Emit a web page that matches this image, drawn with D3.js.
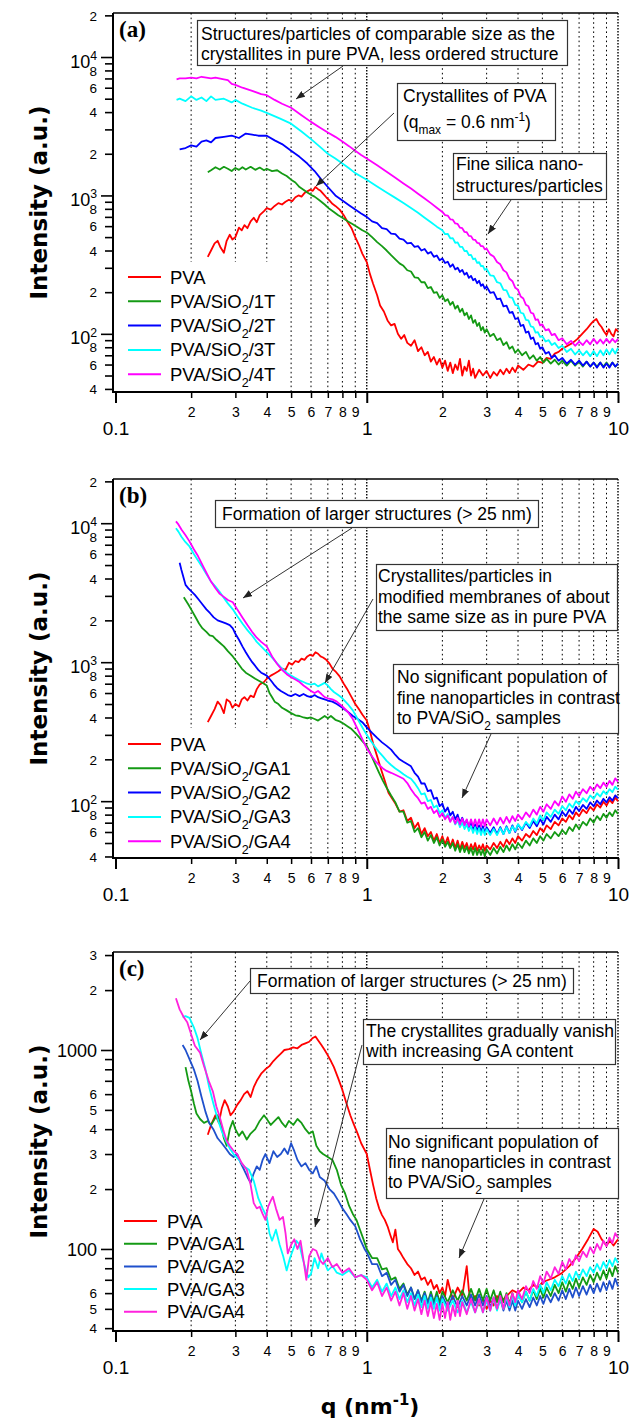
<!DOCTYPE html>
<html><head><meta charset="utf-8">
<script src="https://cdn.jsdelivr.net/npm/d3@7"></script>
<style>
body{margin:0;background:#fff}
svg{display:block;font-family:"Liberation Sans",Arial,sans-serif}
</style></head><body>
<svg width="631" height="1422"></svg>
<script>
// ================= DATA =================
const xTicks  = [0.1,0.2,0.3,0.4,0.5,0.6,0.7,0.8,0.9,1,2,3,4,5,6,7,8,9,10];
const xLabels = ["0.1","2","3","4","5","6","7","8","9","1","2","3","4","5","6","7","8","9","10"];
const gridQ   = [0.2,0.3,0.4,0.5,0.6,0.7,0.8,0.9,1,2,3,4,5,6,7,8,9,10];

const yTicksAB  = [40,50,60,70,80,90,100,200,300,400,500,600,700,800,900,1000,2000,3000,4000,5000,6000,7000,8000,9000,10000,20000];
const yLabelsAB = ["4","","6","","8","","10^{2}","2","","4","","6","","8","","10^{3}","2","","4","","6","","8","","10^{4}","2"];
const yTicksC   = [40,50,60,70,80,90,100,200,300,400,500,600,700,800,900,1000,2000,3000];
const yLabelsC  = ["4","5","6","","","","100","2","3","4","5","6","","","","1000","2","3"];

const namesA = ["PVA","PVA/SiO_{2}/1T","PVA/SiO_{2}/2T","PVA/SiO_{2}/3T","PVA/SiO_{2}/4T"];
const namesB = ["PVA","PVA/SiO_{2}/GA1","PVA/SiO_{2}/GA2","PVA/SiO_{2}/GA3","PVA/SiO_{2}/GA4"];
const namesC = ["PVA","PVA/GA1","PVA/GA2","PVA/GA3","PVA/GA4"];
const colorsAB = ["#ff0000","#149a14","#0000ff","#00ffff","#ff00ff"];
const colorsC  = ["#ff0000","#149a14","#1f50cc","#00ffff","#ff22dd"];

// ---- panel (a) : [q (nm^-1), intensity] ----
const aPVA = [[0.233,360],[0.24,400],[0.248,450],[0.255,470],[0.262,420],[0.27,385],[0.277,470],[0.285,520],[0.292,480],[0.30,500],[0.31,585],[0.318,560],[0.326,610],[0.335,580],[0.345,650],[0.355,690],[0.365,640],[0.375,720],[0.39,770],[0.40,810],[0.415,790],[0.43,840],[0.445,880],[0.46,860],[0.475,900],[0.49,930],[0.505,910],[0.52,970],[0.535,1000],[0.55,980],[0.565,1040],[0.58,1070],[0.595,1100],[0.61,1080],[0.625,1150],[0.64,1110],[0.655,1080],[0.67,1030],[0.69,970],[0.71,920],[0.73,870],[0.75,840],[0.78,790],[0.81,720],[0.84,640],[0.87,580],[0.90,500],[0.93,440],[0.96,380],[1.0,330],[1.03,270],[1.06,230],[1.1,190],[1.13,160],[1.17,145],[1.21,125],[1.25,115],[1.29,118],[1.33,100],[1.37,92],[1.41,98],[1.45,86],[1.5,82],[1.55,90],[1.6,75],[1.65,80],[1.7,70],[1.75,74],[1.8,63],[1.85,68],[1.9,60],[1.95,66],[2.0,57],[2.05,64],[2.1,54],[2.15,62],[2.2,52],[2.25,60],[2.3,55],[2.35,66],[2.4,50],[2.45,58],[2.5,54],[2.55,64],[2.6,50],[2.65,56],[2.7,48],[2.8,55],[2.9,50],[3.0,54],[3.1,48],[3.2,53],[3.3,50],[3.4,55],[3.5,51],[3.6,56],[3.7,52],[3.8,57],[3.9,53],[4.0,59],[4.2,55],[4.4,60],[4.6,58],[4.8,63],[5.0,62],[5.2,67],[5.4,66],[5.6,72],[5.8,74],[6.0,78],[6.3,82],[6.6,86],[6.9,92],[7.2,100],[7.5,108],[7.8,118],[8.0,124],[8.2,128],[8.4,118],[8.6,112],[8.8,104],[9.0,98],[9.2,108],[9.4,100],[9.6,96],[9.8,108],[10.0,104]];
const a1T = [[0.233,1470],[0.24,1520],[0.25,1600],[0.26,1540],[0.27,1610],[0.28,1560],[0.29,1500],[0.30,1580],[0.31,1530],[0.32,1600],[0.33,1540],[0.345,1610],[0.36,1530],[0.375,1590],[0.39,1520],[0.40,1560],[0.42,1500],[0.44,1520],[0.46,1440],[0.48,1380],[0.50,1300],[0.52,1240],[0.54,1150],[0.56,1100],[0.58,1050],[0.60,1010],[0.62,980],[0.65,920],[0.68,860],[0.71,800],[0.74,760],[0.77,720],[0.80,690],[0.84,650],[0.88,620],[0.92,590],[0.96,560],[1.0,540],[1.05,500],[1.1,460],[1.15,430],[1.2,400],[1.25,370],[1.3,345],[1.35,323],[1.4,310],[1.45,288],[1.5,282],[1.55,256],[1.6,254],[1.65,236],[1.7,236],[1.75,214],[1.8,218],[1.85,198],[1.9,200],[1.95,182],[2.0,190],[2.05,172],[2.1,178],[2.15,162],[2.2,170],[2.25,152],[2.3,160],[2.35,144],[2.4,152],[2.45,136],[2.5,142],[2.55,128],[2.6,136],[2.65,120],[2.7,126],[2.75,114],[2.8,120],[2.85,106],[2.9,112],[2.95,102],[3.0,108],[3.1,96],[3.2,100],[3.3,90],[3.4,93],[3.5,83],[3.6,87],[3.7,78],[3.8,81],[3.9,73],[4.0,77],[4.15,70],[4.3,74],[4.45,66],[4.6,70],[4.75,64],[4.9,68],[5.05,62],[5.2,66],[5.4,61],[5.6,65],[5.8,60],[6.0,64],[6.25,59],[6.5,64],[6.75,59],[7.0,63],[7.25,58],[7.5,63],[7.75,58],[8.0,62],[8.25,58],[8.5,62],[8.75,58],[9.0,62],[9.25,58],[9.5,62],[9.75,58],[10,61]];
const a2T = [[0.18,2150],[0.19,2200],[0.20,2300],[0.21,2250],[0.22,2450],[0.23,2500],[0.24,2420],[0.25,2600],[0.27,2650],[0.29,2700],[0.31,2600],[0.33,2800],[0.35,2750],[0.37,2700],[0.40,2700],[0.43,2500],[0.46,2350],[0.50,2100],[0.54,1900],[0.58,1700],[0.62,1500],[0.66,1300],[0.70,1150],[0.75,1000],[0.80,920],[0.85,850],[0.90,790],[0.95,740],[1.0,700],[1.05,650],[1.1,630],[1.15,580],[1.2,570],[1.25,530],[1.3,525],[1.35,488],[1.4,480],[1.45,450],[1.5,455],[1.55,425],[1.6,430],[1.65,400],[1.7,410],[1.75,380],[1.8,390],[1.85,360],[1.9,368],[1.95,340],[2.0,350],[2.05,325],[2.1,332],[2.15,305],[2.2,318],[2.25,292],[2.3,300],[2.35,280],[2.4,290],[2.45,268],[2.5,276],[2.55,254],[2.6,262],[2.65,244],[2.7,250],[2.75,232],[2.8,242],[2.85,222],[2.9,228],[2.95,212],[3.0,220],[3.1,198],[3.2,200],[3.3,178],[3.4,180],[3.5,158],[3.6,160],[3.7,142],[3.8,144],[3.9,128],[4.0,130],[4.1,114],[4.2,116],[4.3,102],[4.4,104],[4.5,92],[4.6,94],[4.7,84],[4.8,86],[4.9,78],[5.0,80],[5.15,72],[5.3,74],[5.45,67],[5.6,70],[5.8,64],[6.0,67],[6.25,61],[6.5,65],[6.75,60],[7.0,64],[7.25,59],[7.5,63],[7.75,58],[8.0,62],[8.25,57],[8.5,62],[8.75,57],[9.0,61],[9.25,57],[9.5,62],[9.75,58],[10,61]];
const a3T = [[0.175,4900],[0.18,5000],[0.19,4800],[0.20,5200],[0.21,4900],[0.22,5100],[0.23,4800],[0.24,5200],[0.25,4900],[0.27,5000],[0.29,4700],[0.30,4900],[0.32,4600],[0.35,4300],[0.38,4100],[0.40,3950],[0.45,3600],[0.50,3300],[0.55,2900],[0.60,2550],[0.65,2250],[0.70,2000],[0.75,1850],[0.80,1700],[0.85,1570],[0.90,1450],[0.95,1370],[1.0,1300],[1.1,1160],[1.2,1050],[1.3,960],[1.4,880],[1.5,810],[1.6,750],[1.7,690],[1.8,640],[1.9,595],[2.0,560],[2.05,525],[2.1,528],[2.15,490],[2.2,492],[2.25,455],[2.3,458],[2.35,425],[2.4,425],[2.45,396],[2.5,398],[2.55,370],[2.6,372],[2.65,346],[2.7,350],[2.75,326],[2.8,330],[2.85,308],[2.9,310],[2.95,290],[3.0,295],[3.1,265],[3.2,262],[3.3,236],[3.4,232],[3.5,208],[3.6,206],[3.7,184],[3.8,182],[3.9,162],[4.0,160],[4.1,142],[4.2,140],[4.3,126],[4.4,125],[4.5,113],[4.6,112],[4.7,102],[4.8,103],[4.9,95],[5.0,96],[5.15,88],[5.3,90],[5.45,83],[5.6,86],[5.8,79],[6.0,82],[6.25,74],[6.5,78],[6.75,71],[7.0,76],[7.25,70],[7.5,75],[7.75,69],[8.0,75],[8.25,69],[8.5,76],[8.75,70],[9.0,77],[9.25,71],[9.5,78],[9.75,72],[10,79]];
const a4T = [[0.175,6900],[0.18,7000],[0.19,7000],[0.20,7100],[0.21,7000],[0.22,7200],[0.23,7100],[0.24,7000],[0.25,7100],[0.27,6900],[0.28,6800],[0.29,6400],[0.30,6300],[0.32,6000],[0.35,5700],[0.38,5400],[0.40,5300],[0.43,4900],[0.46,4600],[0.50,4300],[0.55,3800],[0.60,3400],[0.65,3100],[0.70,2850],[0.75,2650],[0.80,2450],[0.85,2270],[0.90,2100],[0.95,1960],[1.0,1850],[1.1,1650],[1.2,1480],[1.3,1340],[1.4,1220],[1.5,1120],[1.6,1030],[1.7,950],[1.8,880],[1.9,815],[2.0,760],[2.05,720],[2.1,715],[2.15,672],[2.2,668],[2.25,628],[2.3,622],[2.35,585],[2.4,580],[2.45,545],[2.5,542],[2.55,510],[2.6,508],[2.65,480],[2.7,478],[2.75,455],[2.8,452],[2.85,430],[2.9,430],[2.95,408],[3.0,412],[3.1,375],[3.2,362],[3.3,330],[3.4,318],[3.5,288],[3.6,278],[3.7,250],[3.8,240],[3.9,215],[4.0,208],[4.1,186],[4.2,180],[4.3,162],[4.4,158],[4.5,142],[4.6,140],[4.7,126],[4.8,127],[4.9,115],[5.0,117],[5.15,106],[5.3,108],[5.45,98],[5.6,100],[5.8,90],[6.0,93],[6.25,84],[6.5,89],[6.75,82],[7.0,88],[7.25,83],[7.5,90],[7.75,84],[8.0,92],[8.25,85],[8.5,91],[8.75,85],[9.0,92],[9.25,86],[9.5,92],[9.75,87],[10,92]];

// ---- panel (b) ----
const bPVA = [[0.233,370],[0.24,410],[0.248,460],[0.255,520],[0.262,490],[0.27,430],[0.277,540],[0.285,520],[0.292,470],[0.30,500],[0.31,480],[0.318,540],[0.326,560],[0.335,530],[0.345,575],[0.355,560],[0.365,640],[0.375,690],[0.39,720],[0.40,760],[0.415,800],[0.43,830],[0.445,860],[0.46,900],[0.475,880],[0.49,990],[0.505,960],[0.52,1020],[0.535,1000],[0.55,1060],[0.565,1040],[0.58,1100],[0.595,1130],[0.61,1110],[0.625,1180],[0.64,1150],[0.655,1100],[0.67,1080],[0.69,1040],[0.71,980],[0.73,900],[0.75,860],[0.78,790],[0.81,700],[0.84,630],[0.87,560],[0.90,500],[0.93,460],[0.96,420],[1.0,380],[1.03,320],[1.06,260],[1.1,210],[1.14,170],[1.18,140],[1.22,115],[1.26,105],[1.3,96],[1.35,84],[1.4,86],[1.45,72],[1.5,76],[1.55,64],[1.6,70],[1.65,58],[1.7,64],[1.75,56],[1.8,60],[1.85,52],[1.9,58],[1.95,50],[2.0,56],[2.05,49],[2.1,55],[2.15,47],[2.2,53],[2.25,46],[2.3,52],[2.35,45],[2.4,51],[2.45,46],[2.5,50],[2.55,44],[2.6,49],[2.65,45],[2.7,50],[2.75,44],[2.8,48],[2.85,45],[2.9,49],[2.95,44],[3.0,48],[3.1,45],[3.2,50],[3.3,46],[3.4,51],[3.5,47],[3.6,53],[3.7,49],[3.8,54],[3.9,50],[4.0,56],[4.15,52],[4.3,58],[4.45,55],[4.6,61],[4.75,57],[4.9,64],[5.05,60],[5.2,67],[5.4,63],[5.6,71],[5.8,67],[6.0,75],[6.2,71],[6.4,79],[6.6,74],[6.8,83],[7.0,78],[7.25,87],[7.5,82],[7.75,91],[8.0,86],[8.25,95],[8.5,90],[8.75,99],[9.0,93],[9.25,102],[9.5,97],[9.75,106],[10.0,100]];
const bGA1 = [[0.187,2930],[0.19,2800],[0.195,2600],[0.2,2400],[0.207,2150],[0.215,1900],[0.222,1750],[0.23,1650],[0.237,1560],[0.244,1540],[0.252,1450],[0.26,1380],[0.27,1300],[0.28,1200],[0.293,1100],[0.305,1000],[0.318,900],[0.33,840],[0.345,800],[0.36,760],[0.375,730],[0.39,700],[0.40,680],[0.41,600],[0.42,560],[0.43,520],[0.445,500],[0.46,470],[0.48,450],[0.50,430],[0.52,415],[0.54,410],[0.56,400],[0.58,395],[0.60,400],[0.62,390],[0.64,380],[0.66,395],[0.68,410],[0.70,395],[0.72,410],[0.75,385],[0.78,375],[0.81,360],[0.84,345],[0.87,330],[0.90,310],[0.93,290],[0.96,270],[1.0,250],[1.04,215],[1.08,185],[1.12,160],[1.16,140],[1.2,125],[1.25,110],[1.3,98],[1.35,84],[1.4,84],[1.45,70],[1.5,72],[1.55,60],[1.6,64],[1.65,55],[1.7,60],[1.75,52],[1.8,57],[1.85,50],[1.9,55],[1.95,48],[2.0,53],[2.05,47],[2.1,51],[2.15,46],[2.2,50],[2.25,44],[2.3,49],[2.35,43],[2.4,48],[2.45,43],[2.5,47],[2.55,42],[2.6,46],[2.65,41],[2.7,46],[2.75,41],[2.8,45],[2.85,41],[2.9,45],[2.95,40],[3.0,45],[3.1,41],[3.2,46],[3.3,42],[3.4,47],[3.5,43],[3.6,48],[3.7,44],[3.8,49],[3.9,45],[4.0,50],[4.15,46],[4.3,52],[4.45,48],[4.6,54],[4.75,50],[4.9,56],[5.05,52],[5.2,58],[5.4,54],[5.6,60],[5.8,56],[6.0,62],[6.2,58],[6.4,65],[6.6,61],[6.8,68],[7.0,63],[7.25,71],[7.5,67],[7.75,75],[8.0,70],[8.25,78],[8.5,73],[8.75,81],[9.0,76],[9.25,83],[9.5,78],[9.75,86],[10.0,81]];
const bGA2 = [[0.18,5200],[0.183,4600],[0.187,4000],[0.19,3600],[0.195,3400],[0.2,3250],[0.207,3050],[0.215,2800],[0.222,2600],[0.23,2400],[0.238,2250],[0.246,2100],[0.255,2000],[0.265,1950],[0.275,1900],[0.285,1850],[0.293,1750],[0.30,1600],[0.31,1450],[0.32,1300],[0.33,1180],[0.34,1080],[0.35,1000],[0.36,940],[0.37,880],[0.38,840],[0.39,820],[0.40,800],[0.41,760],[0.42,720],[0.43,680],[0.44,650],[0.455,620],[0.47,600],[0.485,580],[0.50,570],[0.52,590],[0.54,570],[0.56,590],[0.58,570],[0.60,560],[0.62,580],[0.64,560],[0.66,550],[0.68,540],[0.70,530],[0.73,520],[0.76,500],[0.80,470],[0.84,440],[0.88,410],[0.92,390],[0.96,370],[1.0,340],[1.05,310],[1.1,285],[1.15,265],[1.2,250],[1.25,235],[1.3,215],[1.35,200],[1.4,192],[1.45,185],[1.5,178],[1.55,160],[1.6,150],[1.65,134],[1.7,134],[1.75,118],[1.8,120],[1.85,104],[1.9,106],[1.95,92],[2.0,96],[2.05,84],[2.1,90],[2.15,79],[2.2,84],[2.25,74],[2.3,80],[2.35,70],[2.4,76],[2.45,68],[2.5,73],[2.55,65],[2.6,70],[2.65,63],[2.7,68],[2.75,61],[2.8,67],[2.85,60],[2.9,66],[2.95,59],[3.0,65],[3.1,59],[3.2,65],[3.3,58],[3.4,65],[3.5,58],[3.6,66],[3.7,59],[3.8,67],[3.9,60],[4.0,68],[4.15,62],[4.3,70],[4.45,64],[4.6,72],[4.75,66],[4.9,74],[5.05,68],[5.2,77],[5.4,71],[5.6,80],[5.8,74],[6.0,84],[6.2,78],[6.4,87],[6.6,81],[6.8,91],[7.0,85],[7.25,94],[7.5,88],[7.75,98],[8.0,92],[8.25,101],[8.5,95],[8.75,104],[9.0,98],[9.25,107],[9.5,101],[9.75,110],[10.0,105]];
const bGA3 = [[0.174,9200],[0.178,8700],[0.183,8000],[0.19,7300],[0.197,6800],[0.205,6000],[0.213,5400],[0.222,4800],[0.23,4300],[0.24,3800],[0.25,3500],[0.26,3200],[0.27,2900],[0.28,2650],[0.293,2400],[0.305,2150],[0.32,1900],[0.335,1700],[0.35,1550],[0.365,1400],[0.38,1300],[0.40,1180],[0.42,1080],[0.44,980],[0.46,900],[0.48,840],[0.50,800],[0.52,770],[0.54,740],[0.56,720],[0.58,700],[0.60,690],[0.62,700],[0.64,670],[0.66,690],[0.68,710],[0.70,680],[0.72,640],[0.74,610],[0.77,580],[0.80,550],[0.84,500],[0.88,450],[0.92,390],[0.96,340],[1.0,300],[1.04,270],[1.08,245],[1.12,225],[1.16,210],[1.2,195],[1.25,182],[1.3,172],[1.35,164],[1.4,156],[1.45,150],[1.5,145],[1.55,135],[1.6,124],[1.65,112],[1.7,114],[1.75,100],[1.8,102],[1.85,90],[1.9,93],[1.95,82],[2.0,86],[2.05,76],[2.1,81],[2.15,72],[2.2,77],[2.25,68],[2.3,73],[2.35,65],[2.4,70],[2.45,63],[2.5,68],[2.55,61],[2.6,66],[2.65,59],[2.7,65],[2.75,58],[2.8,64],[2.85,57],[2.9,63],[2.95,57],[3.0,63],[3.1,57],[3.2,63],[3.3,57],[3.4,64],[3.5,58],[3.6,65],[3.7,59],[3.8,66],[3.9,61],[4.0,68],[4.15,63],[4.3,71],[4.45,66],[4.6,75],[4.75,69],[4.9,79],[5.05,73],[5.2,83],[5.4,77],[5.6,87],[5.8,81],[6.0,92],[6.2,86],[6.4,96],[6.6,90],[6.8,100],[7.0,95],[7.25,105],[7.5,99],[7.75,110],[8.0,104],[8.25,114],[8.5,108],[8.75,118],[9.0,112],[9.25,122],[9.5,116],[9.75,127],[10.0,121]];
const bGA4 = [[0.174,10300],[0.178,9800],[0.183,9000],[0.19,8200],[0.197,7400],[0.205,6500],[0.213,5800],[0.222,5000],[0.23,4400],[0.24,3800],[0.25,3400],[0.26,3100],[0.27,2950],[0.28,2800],[0.293,2700],[0.305,2400],[0.32,2100],[0.335,1850],[0.35,1650],[0.365,1500],[0.38,1400],[0.40,1300],[0.42,1100],[0.44,970],[0.46,880],[0.48,820],[0.50,780],[0.52,750],[0.54,720],[0.56,680],[0.58,650],[0.60,620],[0.62,600],[0.64,620],[0.66,590],[0.68,560],[0.70,550],[0.73,540],[0.76,520],[0.80,480],[0.84,440],[0.88,390],[0.92,330],[0.96,280],[1.0,240],[1.04,215],[1.08,195],[1.12,182],[1.16,172],[1.2,165],[1.25,160],[1.3,155],[1.35,150],[1.4,145],[1.45,135],[1.5,122],[1.55,112],[1.6,105],[1.65,96],[1.7,98],[1.75,88],[1.8,91],[1.85,82],[1.9,86],[1.95,77],[2.0,82],[2.05,74],[2.1,79],[2.15,71],[2.2,77],[2.25,69],[2.3,76],[2.35,68],[2.4,75],[2.45,67],[2.5,74],[2.55,66],[2.6,74],[2.65,66],[2.7,74],[2.75,66],[2.8,74],[2.85,66],[2.9,74],[2.95,66],[3.0,74],[3.1,67],[3.2,75],[3.3,68],[3.4,76],[3.5,69],[3.6,77],[3.7,70],[3.8,78],[3.9,72],[4.0,80],[4.15,74],[4.3,83],[4.45,77],[4.6,87],[4.75,80],[4.9,91],[5.05,84],[5.2,95],[5.4,88],[5.6,100],[5.8,93],[6.0,108],[6.2,99],[6.4,112],[6.6,104],[6.8,117],[7.0,109],[7.25,122],[7.5,114],[7.75,127],[8.0,119],[8.25,132],[8.5,124],[8.75,136],[9.0,127],[9.25,140],[9.5,131],[9.75,146],[10.0,138]];

// ---- panel (c) ----
const cPVA = [[0.233,375],[0.24,420],[0.25,470],[0.258,430],[0.265,510],[0.272,560],[0.28,520],[0.287,470],[0.295,490],[0.305,530],[0.315,560],[0.325,600],[0.335,620],[0.345,580],[0.355,650],[0.365,700],[0.38,760],[0.395,800],[0.41,830],[0.425,880],[0.44,920],[0.455,960],[0.47,1000],[0.49,1010],[0.51,1030],[0.53,1020],[0.55,1060],[0.57,1080],[0.59,1100],[0.61,1150],[0.625,1170],[0.64,1120],[0.66,1060],[0.68,1000],[0.70,940],[0.72,880],[0.74,820],[0.77,720],[0.80,630],[0.83,540],[0.86,470],[0.89,420],[0.92,380],[0.95,340],[1.0,300],[1.03,250],[1.06,210],[1.09,180],[1.12,160],[1.15,148],[1.18,140],[1.21,130],[1.24,118],[1.27,108],[1.3,125],[1.33,100],[1.36,96],[1.4,90],[1.45,84],[1.5,80],[1.55,74],[1.6,77],[1.65,70],[1.7,72],[1.75,66],[1.8,70],[1.85,63],[1.9,66],[1.95,60],[2.0,64],[2.05,58],[2.1,70],[2.15,62],[2.2,56],[2.3,64],[2.4,58],[2.5,82],[2.55,62],[2.6,54],[2.7,58],[2.8,52],[2.9,56],[3.0,50],[3.1,55],[3.2,52],[3.3,58],[3.4,54],[3.6,58],[3.8,62],[4.0,60],[4.2,64],[4.4,62],[4.6,66],[4.8,64],[5.0,68],[5.3,70],[5.6,72],[6.0,76],[6.4,82],[6.8,90],[7.2,100],[7.6,112],[8.0,126],[8.3,122],[8.6,112],[9.0,104],[9.3,110],[9.6,104],[10.0,112]];
const cGA1 = [[0.19,820],[0.195,700],[0.2,620],[0.205,540],[0.21,480],[0.217,450],[0.225,430],[0.233,440],[0.24,420],[0.248,450],[0.255,470],[0.262,430],[0.27,360],[0.277,330],[0.285,400],[0.293,440],[0.30,400],[0.31,370],[0.32,390],[0.333,355],[0.345,380],[0.36,400],[0.375,440],[0.39,470],[0.40,450],[0.415,420],[0.43,440],[0.445,460],[0.46,430],[0.475,410],[0.49,440],[0.51,420],[0.53,450],[0.55,430],[0.57,400],[0.59,380],[0.61,390],[0.63,330],[0.65,310],[0.67,300],[0.70,290],[0.73,280],[0.76,250],[0.79,210],[0.82,190],[0.85,165],[0.88,150],[0.91,140],[0.94,125],[0.97,112],[1.0,100],[1.05,90],[1.1,90],[1.15,79],[1.2,80],[1.25,70],[1.3,72],[1.35,63],[1.4,67],[1.45,59],[1.5,64],[1.55,56],[1.6,62],[1.65,55],[1.7,61],[1.75,54],[1.8,61],[1.85,54],[1.9,61],[1.95,54],[2.0,61],[2.1,54],[2.2,62],[2.3,55],[2.4,62],[2.5,55],[2.6,63],[2.7,55],[2.8,63],[2.9,55],[3.0,63],[3.1,55],[3.2,62],[3.3,54],[3.4,61],[3.5,54],[3.6,60],[3.7,53],[3.8,60],[3.9,53],[4.0,60],[4.15,54],[4.3,61],[4.45,55],[4.6,62],[4.75,56],[4.9,63],[5.05,57],[5.2,64],[5.4,58],[5.6,66],[5.8,60],[6.0,68],[6.2,61],[6.4,69],[6.6,63],[6.8,71],[7.0,64],[7.25,72],[7.5,66],[7.75,74],[8.0,68],[8.25,76],[8.5,70],[8.75,78],[9.0,71],[9.25,80],[9.5,73],[9.75,82],[10.0,76]];
const cGA2 = [[0.185,1060],[0.19,1000],[0.197,900],[0.205,800],[0.212,700],[0.22,580],[0.228,490],[0.236,430],[0.245,400],[0.255,360],[0.265,340],[0.275,320],[0.285,300],[0.295,290],[0.305,300],[0.315,270],[0.325,250],[0.335,230],[0.345,215],[0.355,240],[0.365,260],[0.375,250],[0.385,280],[0.395,300],[0.41,270],[0.425,310],[0.44,290],[0.455,300],[0.47,320],[0.485,300],[0.5,340],[0.515,310],[0.53,280],[0.55,260],[0.57,270],[0.59,250],[0.61,240],[0.63,260],[0.65,230],[0.68,220],[0.71,200],[0.74,190],[0.77,175],[0.8,160],[0.83,150],[0.86,140],[0.9,130],[0.94,112],[0.98,100],[1.0,96],[1.05,84],[1.1,84],[1.15,73],[1.2,76],[1.25,66],[1.3,70],[1.35,61],[1.4,66],[1.45,58],[1.5,64],[1.55,56],[1.6,62],[1.65,54],[1.7,60],[1.75,53],[1.8,59],[1.85,52],[1.9,58],[1.95,51],[2.0,58],[2.1,51],[2.2,58],[2.3,51],[2.4,58],[2.5,52],[2.6,59],[2.7,52],[2.8,59],[2.9,52],[3.0,58],[3.1,51],[3.2,57],[3.3,50],[3.4,56],[3.5,49],[3.6,55],[3.7,49],[3.8,55],[3.9,49],[4.0,55],[4.15,50],[4.3,56],[4.45,51],[4.6,57],[4.75,52],[4.9,58],[5.05,53],[5.2,59],[5.4,54],[5.6,60],[5.8,55],[6.0,62],[6.2,56],[6.4,63],[6.6,57],[6.8,64],[7.0,58],[7.25,65],[7.5,59],[7.75,66],[8.0,60],[8.25,67],[8.5,61],[8.75,68],[9.0,62],[9.25,69],[9.5,63],[9.75,71],[10.0,65]];
const cGA3 = [[0.185,1460],[0.19,1480],[0.197,1450],[0.205,1300],[0.212,1150],[0.22,950],[0.228,800],[0.236,650],[0.245,540],[0.255,450],[0.265,390],[0.275,350],[0.285,320],[0.295,300],[0.31,280],[0.325,260],[0.34,250],[0.355,220],[0.37,180],[0.385,160],[0.40,145],[0.41,120],[0.42,110],[0.435,125],[0.45,105],[0.465,92],[0.48,78],[0.495,90],[0.51,100],[0.525,110],[0.54,105],[0.555,90],[0.57,80],[0.585,72],[0.6,75],[0.62,90],[0.64,80],[0.66,95],[0.68,85],[0.70,78],[0.73,82],[0.76,76],[0.8,74],[0.85,78],[0.9,72],[0.95,74],[1.0,72],[1.05,64],[1.1,70],[1.15,61],[1.2,67],[1.25,58],[1.3,64],[1.35,56],[1.4,62],[1.45,54],[1.5,60],[1.55,52],[1.6,59],[1.65,51],[1.7,58],[1.75,50],[1.8,57],[1.85,50],[1.9,57],[1.95,49],[2.0,56],[2.1,49],[2.2,55],[2.3,48],[2.4,55],[2.5,48],[2.6,54],[2.7,48],[2.8,55],[2.9,48],[3.0,55],[3.1,49],[3.2,56],[3.3,49],[3.4,56],[3.5,50],[3.6,57],[3.7,51],[3.8,58],[3.9,52],[4.0,59],[4.15,54],[4.3,61],[4.45,55],[4.6,63],[4.75,58],[4.9,66],[5.05,60],[5.2,68],[5.4,62],[5.6,70],[5.8,65],[6.0,73],[6.2,67],[6.4,75],[6.6,69],[6.8,77],[7.0,71],[7.25,79],[7.5,73],[7.75,81],[8.0,76],[8.25,84],[8.5,78],[8.75,86],[9.0,80],[9.25,88],[9.5,82],[9.75,90],[10.0,85]];
const cGA4 = [[0.174,1820],[0.18,1600],[0.187,1460],[0.193,1380],[0.2,1200],[0.207,1050],[0.217,970],[0.225,830],[0.235,700],[0.244,620],[0.252,520],[0.26,460],[0.268,400],[0.277,350],[0.285,330],[0.293,315],[0.305,300],[0.318,270],[0.333,250],[0.345,210],[0.355,170],[0.365,160],[0.375,163],[0.385,150],[0.395,140],[0.405,163],[0.415,175],[0.423,183],[0.435,160],[0.45,140],[0.464,145],[0.475,120],[0.485,95],[0.5,105],[0.515,112],[0.53,100],[0.545,110],[0.56,88],[0.575,70],[0.59,92],[0.61,100],[0.63,98],[0.65,88],[0.67,84],[0.70,90],[0.73,81],[0.76,84],[0.8,76],[0.85,80],[0.9,72],[0.95,74],[1.0,70],[1.05,62],[1.1,68],[1.15,58],[1.2,64],[1.25,55],[1.3,61],[1.35,52],[1.4,60],[1.45,50],[1.5,58],[1.55,49],[1.6,56],[1.65,47],[1.7,55],[1.75,46],[1.8,54],[1.85,45],[1.9,53],[1.95,44],[2.0,53],[2.05,45],[2.1,54],[2.15,44],[2.2,52],[2.25,46],[2.3,55],[2.35,46],[2.4,54],[2.5,47],[2.6,56],[2.7,48],[2.8,56],[2.9,48],[3.0,57],[3.1,49],[3.2,57],[3.3,50],[3.4,58],[3.5,50],[3.6,59],[3.7,52],[3.8,60],[3.9,54],[4.0,62],[4.15,56],[4.3,65],[4.45,60],[4.6,69],[4.75,63],[4.9,73],[5.05,67],[5.2,77],[5.4,71],[5.6,81],[5.8,75],[6.0,86],[6.2,79],[6.4,89],[6.6,83],[6.8,93],[7.0,87],[7.25,97],[7.5,91],[7.75,102],[8.0,95],[8.25,106],[8.5,99],[8.75,110],[9.0,103],[9.25,114],[9.5,107],[9.75,120],[10.0,114]];

// ================= LAYOUT =================
const panels = [
  {label:"(a)", top:13, bottom:392, yDomain:[38,20800], yTicks:yTicksAB, yLabels:yLabelsAB,
   series:[aPVA,a1T,a2T,a3T,a4T], names:namesA, colors:colorsAB,
   legend:{x1:128,x2:161,tx:170,y0:277,dy:24.3,bg:[115,262,172,129]},
   notes:[
     {box:[197,20,370,45],tx:201,ty:40,lh:20,lines:["Structures/particles of comparable size as the","crystallites in pure PVA, less ordered structure"],arrow:[343,66,296,99]},
     {box:[397,83,158,57],tx:403,ty:102,lh:26,lines:["Crystallites of PVA","(q_{max} = 0.6 nm^{-1})"],arrow:[394,113,316,186]},
     {box:[453,153,153,46],tx:456,ty:170,lh:22,lines:["Fine silica nano-","structures/particles"],arrow:[511,200,488,234]}
   ]},
  {label:"(b)", top:479, bottom:858, yDomain:[39,20800], yTicks:yTicksAB, yLabels:yLabelsAB,
   series:[bPVA,bGA1,bGA2,bGA3,bGA4], names:namesB, colors:colorsAB,
   legend:{x1:128,x2:161,tx:170,y0:744,dy:24.3,bg:[115,728,186,129]},
   notes:[
     {box:[215,500,323,27],tx:222,ty:520,lh:20,lines:["Formation of larger structures (> 25 nm)"],arrow:[352,528,243,598]},
     {box:[376,564,241,66],tx:378,ty:582,lh:20.5,lines:["Crystallites/particles in","modified membranes of about","the same size as in pure PVA"],arrow:[373,599,325,683]},
     {box:[393,664,225,69],tx:397,ty:683,lh:20.5,lines:["No significant population of","fine nanoparticles in contrast","to PVA/SiO_{2} samples"],arrow:[491,734,462,798]}
   ]},
  {label:"(c)", top:952, bottom:1331, yDomain:[38.7,3108], yTicks:yTicksC, yLabels:yLabelsC,
   series:[cPVA,cGA1,cGA2,cGA3,cGA4], names:namesC, colors:colorsC,
   legend:{x1:124,x2:157,tx:167,y0:1221,dy:22.7,bg:null},
   notes:[
     {box:[250,968,323,25],tx:257,ty:987,lh:20,lines:["Formation of larger structures (> 25 nm)"],arrow:[250,981,200,1040]},
     {box:[363,1019,252,45],tx:366,ty:1037,lh:20,lines:["The crystallites gradually vanish","with increasing GA content"],arrow:[362,1045,315,1227]},
     {box:[386,1128,232,70],tx:388,ty:1148,lh:20,lines:["No significant population of","fine nanoparticles in contrast","to PVA/SiO_{2} samples"],arrow:[484,1199,459,1258]}
   ]}
];

// ================= DRAW =================
const svg = d3.select("svg");
const x = d3.scaleLog().domain([0.1,10]).range([115.5,618]);
const axisX0 = 113, axisX1 = 618;

svg.append("defs").append("marker").attr("id","ah")
  .attr("markerUnits","userSpaceOnUse").attr("markerWidth",10).attr("markerHeight",7)
  .attr("refX",9).attr("refY",3.5).attr("orient","auto")
  .append("path").attr("d","M0,0L9,3.5L0,7Z").attr("fill","#222");

function rich(sel, str, size){
  const parts = str.split(/(_\{[^}]*\}|\^\{[^}]*\})/).filter(s=>s.length);
  let cur = 0;
  parts.forEach(p=>{
    let shift=0, t=p, fs=size;
    if(p.startsWith("_{")){shift=size*0.32; t=p.slice(2,-1); fs=size*0.68;}
    else if(p.startsWith("^{")){shift=-size*0.42; t=p.slice(2,-1); fs=size*0.68;}
    sel.append("tspan").attr("dy",shift-cur).attr("font-size",fs).text(t);
    cur = shift;
  });
}
const isMajorX = d => Math.abs(Math.log10(d)-Math.round(Math.log10(d)))<1e-9;

panels.forEach(p=>{
  const g = svg.append("g");
  const y = d3.scaleLog().domain(p.yDomain).range([p.bottom,p.top]);

  // grid
  g.append("g").selectAll("line").data(gridQ).join("line")
    .attr("x1",d=>x(d)).attr("x2",d=>x(d)).attr("y1",p.top).attr("y2",p.bottom)
    .attr("stroke","#000")
    .attr("stroke-width",d=>isMajorX(d)?1.4:1)
    .attr("stroke-dasharray",d=>isMajorX(d)?"1.6,1.4":"1.6,3");

  // series
  const line = d3.line().x(d=>x(d[0])).y(d=>y(d[1]));
  g.append("g").selectAll("path").data(p.series).join("path")
    .attr("d",line).attr("fill","none")
    .attr("stroke",(d,i)=>p.colors[i]).attr("stroke-width",1.8).attr("stroke-linejoin","round");

  // legend
  const L = p.legend;
  if(L.bg) g.append("rect").attr("x",L.bg[0]).attr("y",L.bg[1]).attr("width",L.bg[2]).attr("height",L.bg[3]).attr("fill","#fff");
  p.names.forEach((n,i)=>{
    const yy = L.y0 + i*L.dy;
    g.append("line").attr("x1",L.x1).attr("x2",L.x2).attr("y1",yy).attr("y2",yy)
      .attr("stroke",p.colors[i]).attr("stroke-width",2);
    const t = g.append("text").attr("x",L.tx).attr("y",yy+6.5).attr("font-size",18.5).attr("fill","#000");
    rich(t,n,18.5);
  });

  // annotations
  p.notes.forEach(n=>{
    g.append("line").attr("x1",n.arrow[0]).attr("y1",n.arrow[1]).attr("x2",n.arrow[2]).attr("y2",n.arrow[3])
      .attr("stroke","#333").attr("stroke-width",1).attr("marker-end","url(#ah)");
    g.append("rect").attr("x",n.box[0]+0.5).attr("y",n.box[1]+0.5).attr("width",n.box[2]).attr("height",n.box[3])
      .attr("fill","#fff").attr("stroke","#333").attr("stroke-width",1.2);
    n.lines.forEach((s,k)=>{
      const t = g.append("text").attr("x",n.tx).attr("y",n.ty+k*n.lh).attr("font-size",17.5).attr("fill","#000");
      rich(t,s,17.5);
    });
  });

  // panel label
  g.append("text").attr("x",119).attr("y",p.top+24).attr("font-family","'Liberation Serif','Times New Roman',serif")
    .attr("font-weight","bold").attr("font-size",23).text(p.label);

  // frame: top line, left & bottom axis lines
  g.append("line").attr("x1",axisX0).attr("x2",axisX1).attr("y1",p.top).attr("y2",p.top).attr("stroke","#000").attr("stroke-width",1.5);
  g.append("line").attr("x1",axisX0).attr("x2",axisX0).attr("y1",p.top).attr("y2",p.bottom+1).attr("stroke","#000").attr("stroke-width",2);
  g.append("line").attr("x1",axisX0-1).attr("x2",axisX1+1).attr("y1",p.bottom).attr("y2",p.bottom).attr("stroke","#000").attr("stroke-width",2);

  // x axis
  const xa = g.append("g").attr("transform",`translate(0,${p.bottom})`)
    .call(d3.axisBottom(x).tickValues(xTicks).tickSize(6).tickSizeOuter(0).tickFormat((d,i)=>xLabels[i]));
  xa.select(".domain").remove();
  xa.selectAll(".tick line").attr("stroke","#000")
    .attr("y2",d=>isMajorX(d)?11:6).attr("stroke-width",d=>isMajorX(d)?2:1.5);
  xa.selectAll(".tick text").attr("fill","#000").attr("font-family","'Liberation Sans',Arial,sans-serif")
    .attr("dy",0).attr("font-size",d=>isMajorX(d)?19:14).attr("y",d=>isMajorX(d)?43:25);

  // y axis
  const ya = g.append("g").attr("transform",`translate(${axisX0},0)`)
    .call(d3.axisLeft(y).tickValues(p.yTicks).tickSize(8).tickSizeOuter(0).tickFormat((d,i)=>p.yLabels[i]));
  ya.select(".domain").remove();
  const isMajorY = d => Math.abs(Math.log10(d)-Math.round(Math.log10(d)))<1e-9;
  ya.selectAll(".tick line").attr("stroke","#000")
    .attr("x2",d=>isMajorY(d)?-12:-8).attr("stroke-width",1.6);
  ya.selectAll(".tick text").each(function(d,i){
    const s = p.yLabels[p.yTicks.indexOf(d)];
    const t = d3.select(this).attr("fill","#000").attr("x",-16).attr("font-family","'Liberation Sans',Arial,sans-serif");
    t.text(null);
    if(s.includes("^")){
      t.attr("dy",0).attr("y",10).attr("font-size",18);
      rich(t,s,18);
    } else if(s.length>1){
      t.attr("dy","0.35em").attr("font-size",18).text(s);
    } else {
      t.attr("dy","0.35em").attr("font-size",13.5).text(s);
    }
  });

  // y title
  g.append("text").attr("transform",`translate(47,${(p.top+p.bottom)/2}) rotate(-90)`)
    .attr("text-anchor","middle").attr("font-family","'DejaVu Sans',sans-serif").attr("font-weight","bold")
    .attr("font-size",23).text("Intensity (a.u.)");
});

// x title
const xt = svg.append("text").attr("x",370).attr("y",1414).attr("text-anchor","middle")
  .attr("font-family","'DejaVu Sans',sans-serif").attr("font-weight","bold").attr("font-size",22);
rich(xt,"q (nm^{-1})",22);
</script>
</body></html>
